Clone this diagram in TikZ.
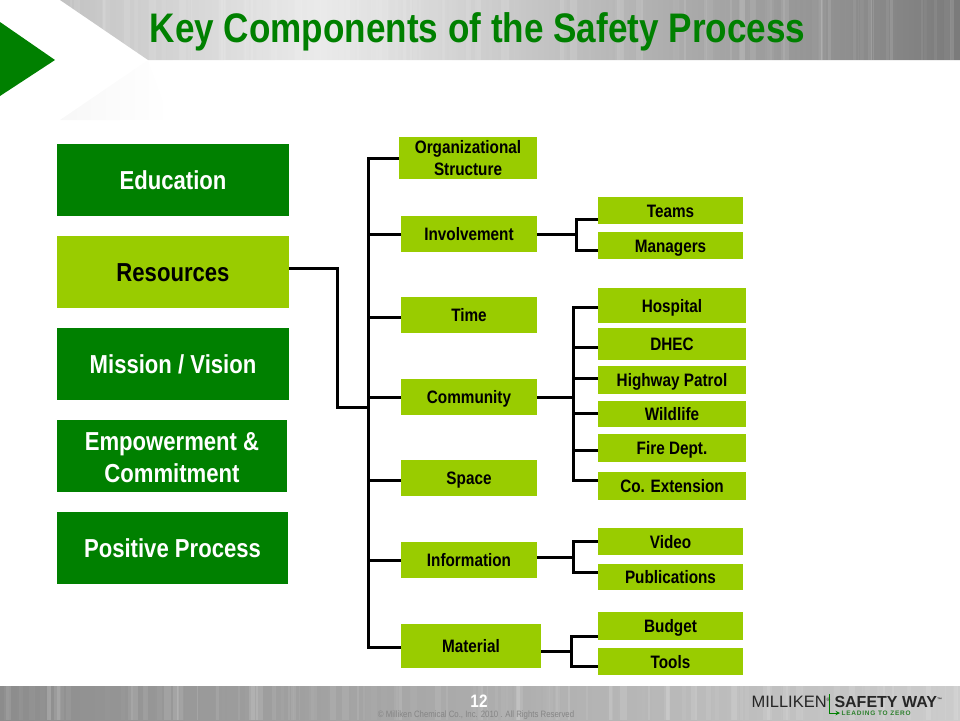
\documentclass[tikz,border=0pt]{standalone}
\usepackage{fontspec}
\setmainfont[FakeStretch=0.85]{Liberation Sans}
\newfontfamily\logofont{Liberation Sans}
\newfontfamily\logospaced[LetterSpace=12]{Liberation Sans}
\usepackage{xcolor}
\usetikzlibrary{calc}
\definecolor{darkleaf}{RGB}{0,128,0}
\definecolor{lightleaf}{RGB}{153,204,0}
\pgfmathsetseed{12}

\begin{document}
\begin{tikzpicture}[x=1pt, y=-1pt, line width=3pt,
    topic/.style={fill=darkleaf, text=white, inner sep=0pt, outer sep=0pt, align=center,
        text height=19pt, text depth=0pt,
        font=\fontsize{26}{32}\selectfont\bfseries},
    active/.style={topic, fill=lightleaf, text=black},
    item/.style={fill=lightleaf, text=black, inner sep=0pt, outer sep=0pt, align=center,
        text height=13pt, text depth=0pt,
        font=\fontsize{18}{22}\selectfont\bfseries},
    branch/.style={to path={-| (\tikztotarget)}}]
    \useasboundingbox (0,0) rectangle (960,720);

    % header and footer bands
    \begin{scope}
        \clip (60,0) -- (960,0) -- (960,60) -- (148,60) -- cycle;
        \shade [left color=black!24, right color=black!8] (60,0) rectangle (320,60);
        \shade [left color=black!8, right color=black!52] (320,0) rectangle (960,60);
        \foreach \i in {1,...,110} {
            \pgfmathsetmacro{\sx}{60+900*rnd}
            \pgfmathsetmacro{\sw}{1+6*rnd}
            \pgfmathsetmacro{\so}{0.12*rnd}
            \fill [white, opacity=\so] (\sx,0) rectangle ++(\sw,60);
        }
    \end{scope}
    \begin{scope}
        \clip (0,686) rectangle (960,720);
        \shade [left color=black!45, right color=black!20] (0,686) rectangle (960,720);
        \foreach \i in {1,...,130} {
            \pgfmathsetmacro{\sx}{960*rnd}
            \pgfmathsetmacro{\sw}{1+6*rnd}
            \pgfmathsetmacro{\so}{0.12*rnd}
            \fill [white, opacity=\so] (\sx,686) rectangle ++(\sw,34);
        }
    \end{scope}
    \shade [left color=black!3, right color=white] (148,60) -- (60,120) -- (170,120) -- cycle;
    \fill [darkleaf] (0,22) -- (55,60) -- (0,96) -- cycle;

    \node [text=darkleaf, inner sep=0pt, font=\fontsize{41.3}{46}\selectfont\bfseries]
        (title) at (477.5,32) {Key Components of the Safety Process};

    \node [topic, minimum width=232pt, minimum height=72pt] (education) at (173,180) {Education};
    \node [active, minimum width=232pt, minimum height=72pt] (resources) at (173,272) {Resources};
    \node [topic, minimum width=232pt, minimum height=72pt] (mission) at (173,364) {Mission / Vision};
    \node [topic, minimum width=230pt, minimum height=72pt, text height=, text depth=] (empowerment) at (172,456)
        {\rule{0pt}{21pt}Empowerment \&\\Commitment};
    \node [topic, minimum width=231pt, minimum height=72pt] (positive) at (172.5,548) {Positive Process};

    \node [item, minimum width=138pt, minimum height=42pt, text height=, text depth=] (structure) at (468,158)
        {Organizational\\Structure};
    \node [item, minimum width=136pt, minimum height=36pt] (involvement) at (469,234) {Involvement};
    \node [item, minimum width=136pt, minimum height=36pt] (time) at (469,315) {Time};
    \node [item, minimum width=136pt, minimum height=36pt] (community) at (469,397) {Community};
    \node [item, minimum width=136pt, minimum height=36pt] (space) at (469,478) {Space};
    \node [item, minimum width=136pt, minimum height=36pt] (information) at (469,560) {Information};
    \node [item, minimum width=140pt, minimum height=44pt] (material) at (471,646) {Material};

    \node [item, minimum width=145pt, minimum height=27pt] (teams) at (670.5,210.5) {Teams};
    \node [item, minimum width=145pt, minimum height=27pt] (managers) at (670.5,245.5) {Managers};
    \node [item, minimum width=148pt, minimum height=35pt] (hospital) at (672,305.5) {Hospital};
    \node [item, minimum width=148pt, minimum height=32pt] (dhec) at (672,344) {DHEC};
    \node [item, minimum width=148pt, minimum height=28pt] (highway) at (672,380) {Highway Patrol};
    \node [item, minimum width=148pt, minimum height=26pt] (wildlife) at (672,414) {Wildlife};
    \node [item, minimum width=148pt, minimum height=28pt] (fire) at (672,448) {Fire Dept.};
    \node [item, minimum width=148pt, minimum height=28pt] (extension) at (672,486) {Co. Extension};
    \node [item, minimum width=145pt, minimum height=27pt] (video) at (670.5,541.5) {Video};
    \node [item, minimum width=145pt, minimum height=26pt] (publications) at (670.5,577) {Publications};
    \node [item, minimum width=145pt, minimum height=28pt] (budget) at (670.5,626) {Budget};
    \node [item, minimum width=145pt, minimum height=27pt] (tools) at (670.5,661.5) {Tools};

    \coordinate (trunk) at (368,407);
    \coordinate (elbow) at (337,407);
    \coordinate (involvesplit) at (576,234);
    \coordinate (communitysplit) at (573,397);
    \coordinate (infosplit) at (573,557);
    \coordinate (materialsplit) at (571,651);

    \path ([yshift=4pt]resources.east) edge[to path={-| (elbow) -- (\tikztotarget)}] (trunk);

    \path (structure.west) edge[branch] (trunk);
    \path (involvement.west) edge[branch] (trunk);
    \path ([yshift=-2pt]time.west) edge[branch] (trunk);
    \path (community.west) edge[branch] (trunk);
    \path ([yshift=-2pt]space.west) edge[branch] (trunk);
    \path (information.west) edge[branch] (trunk);
    \path ([yshift=-1pt]material.west) edge[branch] (trunk);

    \path (involvement.east) edge (involvesplit);
    \path ([yshift=-8.5pt]teams.west) edge[branch] (involvesplit);
    \path ([yshift=-4.5pt]managers.west) edge[branch] (involvesplit);

    \path (community.east) edge (communitysplit);
    \path ([yshift=-1.5pt]hospital.west) edge[branch] (communitysplit);
    \path ([yshift=-3pt]dhec.west) edge[branch] (communitysplit);
    \path ([yshift=2pt]highway.west) edge[branch] (communitysplit);
    \path ([yshift=1pt]wildlife.west) edge[branch] (communitysplit);
    \path ([yshift=-2pt]fire.west) edge[branch] (communitysplit);
    \path ([yshift=6pt]extension.west) edge[branch] (communitysplit);

    \path ([yshift=3pt]information.east) edge (infosplit);
    \path (video.west) edge[branch] (infosplit);
    \path ([yshift=5pt]publications.west) edge[branch] (infosplit);

    \path ([yshift=-5pt]material.east) edge (materialsplit);
    \path ([yshift=-10pt]budget.west) edge[branch] (materialsplit);
    \path ([yshift=-4.5pt]tools.west) edge[branch] (materialsplit);

    \node [text=white, inner sep=0pt, font=\fontsize{18}{20}\selectfont\bfseries] (page) at (479,701) {12};
    \node [text=black!48, inner sep=0pt, anchor=north, font=\fontsize{9.2}{10}\selectfont] (copy) at (476,709.5)
        {\textcopyright\ Milliken Chemical Co., Inc. 2010 . All Rights Reserved};
    \node [anchor=west, inner sep=0pt, text=black!85, font=\logofont\fontsize{16.5}{18}\selectfont] (milliken) at (750,702)
        {MILLIKEN\textsuperscript{\tiny ®}};
    \node [anchor=west, inner sep=0pt, text=black!85, font=\logofont\fontsize{16}{18}\selectfont\bfseries] (safety) at (833,702)
        {SAFETY WAY\textsuperscript{\tiny ™}};
    \node [anchor=west, inner sep=0pt, text=darkleaf!65!gray, font=\logospaced\fontsize{6.5}{8}\selectfont\bfseries] (leading) at (840,713)
        {LEADING TO ZERO};
    \coordinate (logobar) at (829,694);
    \draw [darkleaf, line width=1pt, -{stealth[scale=1.6]}] (logobar) |- (leading.west);
\end{tikzpicture}
\end{document}
